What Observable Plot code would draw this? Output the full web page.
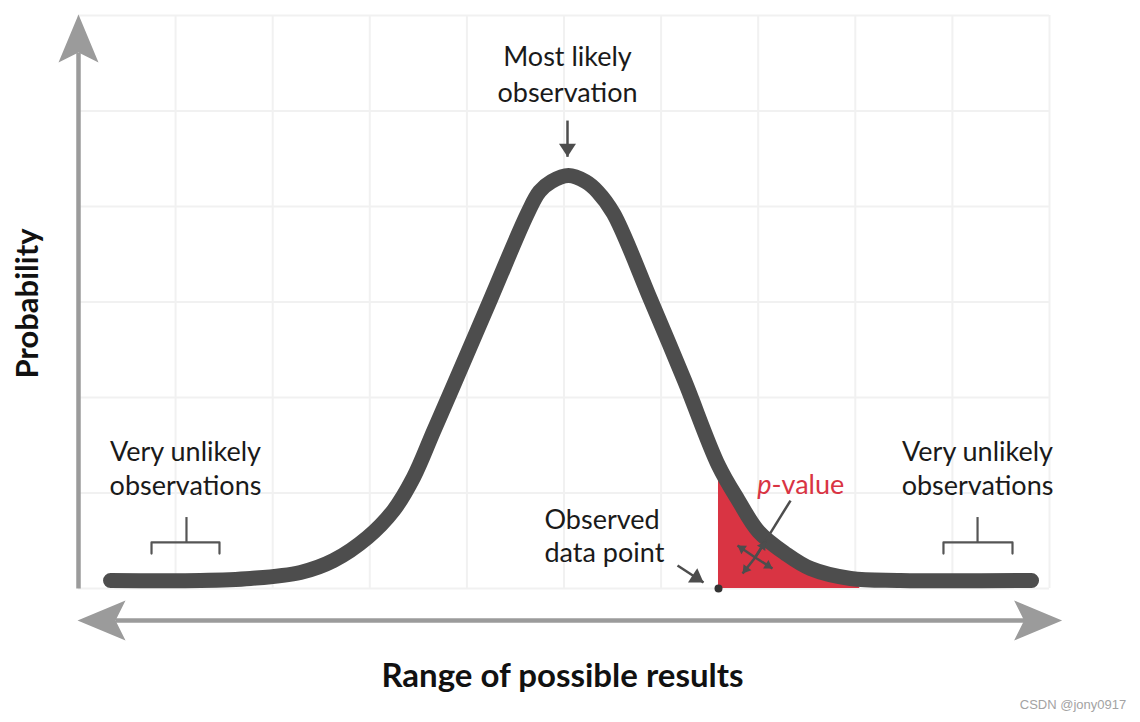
<!DOCTYPE html>
<html><head><meta charset="utf-8">
<script src="https://cdn.jsdelivr.net/npm/d3@7"></script>
<script src="https://cdn.jsdelivr.net/npm/@observablehq/plot@0.6"></script>
<style>html,body{margin:0;padding:0;background:#fff;} #chart svg{display:block;}</style>
</head><body><div id="chart"></div>
<script>
// ---- data (in chart units: x 0..10 grid columns, y 0..6 grid rows) ----
const gridX = [0,1,2,3,4,5,6,7,8,9,10];
const gridY = [0,1,2,3,4,5,6];

const curveX = [0.330,1.256,1.771,2.286,2.626,2.976,3.244,3.450,3.656,3.862,4.243,4.624,4.748,4.871,5.046,5.221,5.345,5.510,5.891,6.241,6.591,6.797,7.003,7.281,7.539,7.951,8.466,9.815];
const curveY = [0.084,0.084,0.105,0.168,0.293,0.534,0.817,1.162,1.644,2.126,3.026,3.927,4.157,4.262,4.325,4.262,4.157,3.927,3.026,2.178,1.288,0.921,0.597,0.366,0.209,0.105,0.084,0.084];

const pValueX = [6.591,6.797,7.003,7.281,7.539,7.951,8.05];
const pValueY = [1.288,0.921,0.597,0.366,0.209,0.105,0.0];

const observedX = [6.591];
const observedY = [0];

// axes arrows (gray): shaft start/end, head tip
const axisShaftX1 = [0, 0.38];
const axisShaftY1 = [0, -0.335];
const axisShaftX2 = [0, 9.74];
const axisShaftY2 = [5.61, -0.335];
const axisHeadFromX = [0, 5, 5];
const axisHeadFromY = [0, -0.335, -0.335];
const axisHeadX = [0, -0.01, 10.13];
const axisHeadY = [6.01, -0.335, -0.335];

// dark annotation arrows: start and tip
const noteArrowX1 = [5.036, 6.169];
const noteArrowY1 = [4.90, 0.241];
const noteArrowX2 = [5.036, 6.437];
const noteArrowY2 = [4.52, 0.063];

// p-value "move" icon: centre and four tips, pointer line start
const iconCX = 6.969, iconCY = 0.325;
const iconTipX = [6.787, 6.839, 7.147, 7.075];
const iconTipY = [0.450, 0.157, 0.209, 0.492];
const pointerX = [7.333], pointerY = [0.921];

// brackets
const bracketLegX = [[0.752,1.452],[8.908,9.619]];
const bracketStemX = [1.112, 9.259];
const bracketTopY = 0.482, bracketLegY = 0.366, bracketStemY = 0.743;

// texts
const noteText = ["Most likely\nobservation","Very unlikely\nobservations","Very unlikely\nobservations"];
const noteX = [5.036, 1.102, 9.259];
const noteY = [5.408, 1.276, 1.276];
const noteLH = [1.333, 1.259, 1.259];
const observedText = ["Observed\ndata point"];
const observedTextX = [4.799], observedTextY = [0.56];
const pText = ["p", "-value"];
const pTextX = [7.137, 7.137], pTextY = [1.085, 1.085];
const yLabel = "Probability", xLabel = "Range of possible results";
const watermark = "CSDN @jony0917";

// ---- layout ----
const W = 1140, H = 722, mL = 78, mR = 91, mT = 15, mB = 134;
const kx = (W - mL - mR) / 10, ky = (H - mT - mB) / 6;
const angle = (x1, y1, x2, y2) => Math.atan2((x2 - x1) * kx, (y2 - y1) * ky) * 180 / Math.PI;

function head(L, w, notch) {
  return {draw(ctx, size) {
    const k = Math.sqrt(size / Math.PI);
    ctx.moveTo(0, 0);
    ctx.lineTo(w * k, L * k);
    ctx.lineTo(0, (L - notch) * k);
    ctx.lineTo(-w * k, L * k);
    ctx.closePath();
  }};
}
const bigHead = head(48, 20, 10), smallHead = head(13, 8.5, 0), iconHead = head(8, 5, 0);

const curve = curveX.map((x, i) => ({x, y: curveY[i]}));
const pArea = pValueX.map((x, i) => ({x, y: pValueY[i]}));
const axisShafts = axisShaftX1.map((x1, i) => ({x1, y1: axisShaftY1[i], x2: axisShaftX2[i], y2: axisShaftY2[i]}));
const axisHeads = axisHeadX.map((x, i) => ({x, y: axisHeadY[i], a: angle(axisHeadFromX[i], axisHeadFromY[i], x, axisHeadY[i])}));
const noteArrows = noteArrowX1.map((x1, i) => ({x1, y1: noteArrowY1[i], x2: noteArrowX2[i], y2: noteArrowY2[i], a: angle(x1, noteArrowY1[i], noteArrowX2[i], noteArrowY2[i])}));
const iconArrows = iconTipX.map((x2, i) => ({x1: iconCX, y1: iconCY, x2, y2: iconTipY[i], a: angle(iconCX, iconCY, x2, iconTipY[i])}));
const brackets = [];
bracketLegX.forEach(([a, b], j) => {
  [[a, bracketLegY], [a, bracketTopY], [b, bracketTopY], [b, bracketLegY]].forEach(([x, y]) => brackets.push({x, y, z: j}));
});
const notes = noteText.map((t, i) => ({t, x: noteX[i], y: noteY[i], lh: noteLH[i]}));

const dark = "#4d4d4d", gray = "#9b9b9b", red = "#d93443";
const font = "Lato, 'Open Sans', sans-serif";

const chart = Plot.plot({
  width: W, height: H,
  marginLeft: mL, marginRight: mR, marginTop: mT, marginBottom: mB,
  x: {domain: [0, 10], axis: null},
  y: {domain: [0, 6], axis: null},
  style: {fontFamily: font, background: "#fff", overflow: "visible"},
  marks: [
    Plot.ruleX(gridX, {y1: 0, y2: 6, stroke: "#f1f1f1", strokeWidth: 2}),
    Plot.ruleY(gridY, {x1: 0, x2: 10, stroke: "#f1f1f1", strokeWidth: 2}),
    Plot.link(axisShafts, {x1: "x1", y1: "y1", x2: "x2", y2: "y2", stroke: gray, strokeWidth: 4.5}),
    Plot.dot(axisHeads, {x: "x", y: "y", symbol: bigHead, r: 1, rotate: "a", fill: gray, stroke: "none"}),
    Plot.areaY(pArea, {x: "x", y1: 0, y2: "y", fill: red, curve: "catmull-rom"}),
    Plot.line(curve, {x: "x", y: "y", stroke: dark, strokeWidth: 15, strokeLinecap: "round", strokeLinejoin: "round", curve: "catmull-rom"}),
    Plot.line(brackets, {x: "x", y: "y", z: "z", stroke: "#555", strokeWidth: 2.2}),
    Plot.ruleX(bracketStemX, {y1: bracketTopY, y2: bracketStemY, stroke: "#555", strokeWidth: 2.2}),
    Plot.link(noteArrows, {x1: "x1", y1: "y1", x2: "x2", y2: "y2", stroke: dark, strokeWidth: 2.5}),
    Plot.dot(noteArrows, {x: "x2", y: "y2", symbol: smallHead, r: 1, rotate: "a", fill: dark, stroke: "none"}),
    Plot.link(pointerX.map((x, i) => ({x1: x, y1: pointerY[i], x2: iconCX, y2: iconCY})), {x1: "x1", y1: "y1", x2: "x2", y2: "y2", stroke: dark, strokeWidth: 2.5}),
    Plot.link(iconArrows, {x1: "x1", y1: "y1", x2: "x2", y2: "y2", stroke: dark, strokeWidth: 2.5}),
    Plot.dot(iconArrows, {x: "x2", y: "y2", symbol: iconHead, r: 1, rotate: "a", fill: dark, stroke: "none"}),
    Plot.dot(observedX.map((x, i) => ({x, y: observedY[i]})), {x: "x", y: "y", r: 4, fill: "#333", stroke: "none"}),
    Plot.text(notes.slice(0, 1), {x: "x", y: "y", text: "t", fontSize: 27, lineHeight: noteLH[0], textAnchor: "middle", lineAnchor: "middle", fill: "#1a1a1a"}),
    Plot.text(notes.slice(1), {x: "x", y: "y", text: "t", fontSize: 27, lineHeight: noteLH[1], textAnchor: "middle", lineAnchor: "middle", fill: "#1a1a1a"}),
    Plot.text(observedText, {x: (d, i) => observedTextX[i], y: (d, i) => observedTextY[i], text: d => d, fontSize: 27, lineHeight: 1.222, textAnchor: "start", lineAnchor: "middle", fill: "#1a1a1a"}),
    Plot.text([pText[0]], {x: pTextX[0], y: pTextY[0], text: d => d, fontSize: 27, fontStyle: "italic", textAnchor: "end", lineAnchor: "middle", fill: red}),
    Plot.text([pText[1]], {x: pTextX[1], y: pTextY[1], text: d => d, fontSize: 27, textAnchor: "start", lineAnchor: "middle", fill: red}),
    Plot.text([yLabel], {x: -0.524, y: 2.984, text: d => d, rotate: -90, fontSize: 31, fontWeight: "bold", textAnchor: "middle", lineAnchor: "middle", fill: "#111"}),
    Plot.text([xLabel], {x: 4.984, y: -0.926, text: d => d, fontSize: 33, fontWeight: "bold", textAnchor: "middle", lineAnchor: "middle", fill: "#111"}),
    Plot.text([watermark], {x: 10.79, y: -1.215, text: d => d, fontSize: 13, fontFamily: "'Liberation Sans Narrow', 'Liberation Sans', sans-serif", textAnchor: "end", lineAnchor: "middle", fill: "#a3a3a3"})
  ]
});
document.getElementById("chart").append(chart);
</script>
</body></html>
